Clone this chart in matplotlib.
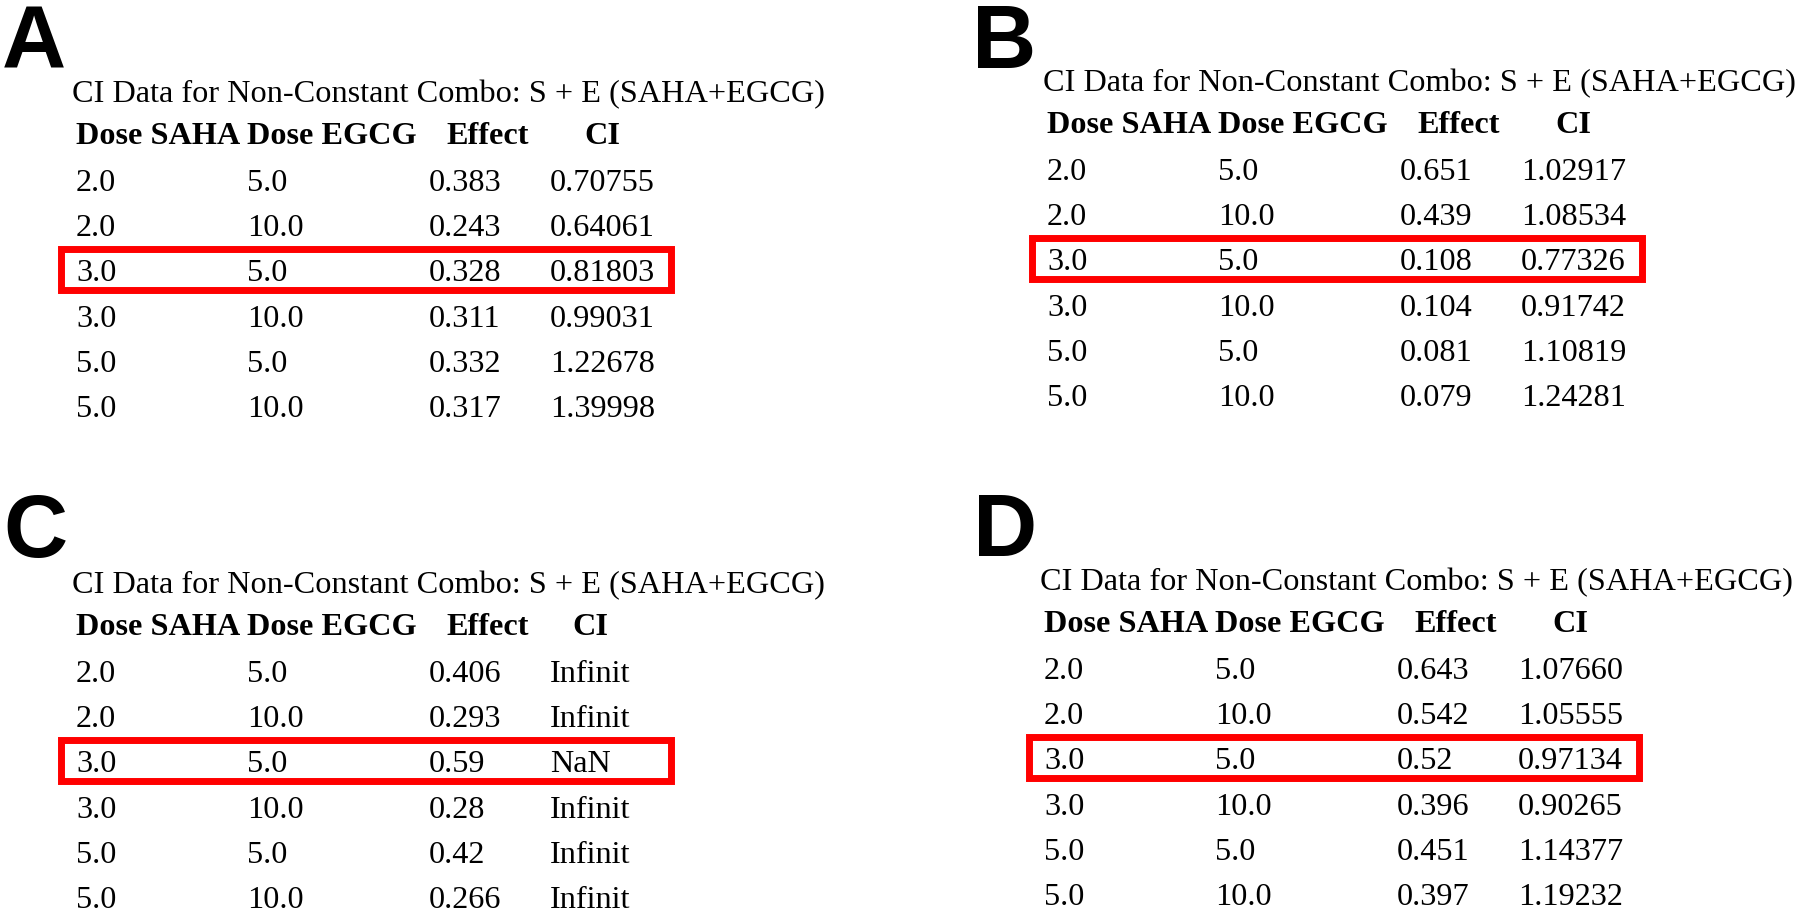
import matplotlib.pyplot as plt
from matplotlib.patches import Rectangle

# table contents (same doses for every panel)
dose_saha = ['2.0', '2.0', '3.0', '3.0', '5.0', '5.0']
dose_egcg = ['5.0', '10.0', '5.0', '10.0', '5.0', '10.0']

effect_A = ['0.383', '0.243', '0.328', '0.311', '0.332', '0.317']
ci_A = ['0.70755', '0.64061', '0.81803', '0.99031', '1.22678', '1.39998']
effect_B = ['0.651', '0.439', '0.108', '0.104', '0.081', '0.079']
ci_B = ['1.02917', '1.08534', '0.77326', '0.91742', '1.10819', '1.24281']
effect_C = ['0.406', '0.293', '0.59', '0.28', '0.42', '0.266']
ci_C = ['Infinit', 'Infinit', 'NaN', 'Infinit', 'Infinit', 'Infinit']
effect_D = ['0.643', '0.542', '0.52', '0.396', '0.451', '0.397']
ci_D = ['1.07660', '1.05555', '0.97134', '0.90265', '1.14377', '1.19232']

panel_labels = ['A', 'B', 'C', 'D']
headers = ['Dose SAHA', 'Dose EGCG', 'Effect', 'CI']
title = 'CI Data for Non-Constant Combo: S + E (SAHA+EGCG)'
highlight_row = 2

# layout in pixels (y downwards), panel A is the base
offsets = [(0, 0), (971, -11), (0, 491), (968, 488)]
letter_pos = [(2, 69), (972, 68), (3, 557), (973, 556)]
col_x = [76, 247, 429, 550]
head_x = [76, 247, 446]
title_y = 102
head_y = 144
row0_y = 191
row_dy = 45.2
box_x0, box_x1 = 61, 670.5

fs = 23.2
serif = 'Liberation Serif'

fig = plt.figure(figsize=(18, 9.17), dpi=100)
ax = fig.add_axes([0, 0, 1, 1])
ax.set_xlim(0, 1800)
ax.set_ylim(917, 0)
ax.axis('off')

fig.canvas.draw()
renderer = fig.canvas.get_renderer()

panels = [(effect_A, ci_A), (effect_B, ci_B), (effect_C, ci_C), (effect_D, ci_D)]
for k, (eff, ci) in enumerate(panels):
    dx, dy = offsets[k]
    lx, ly = letter_pos[k]
    ax.text(lx, ly, panel_labels[k], fontsize=64, fontweight='bold',
            family='Liberation Sans', va='baseline', ha='left')
    ax.text(72 + dx, title_y + dy, title, fontsize=fs, family=serif,
            va='baseline', ha='left')
    for j in range(3):
        ax.text(head_x[j] + dx, head_y + dy, headers[j], fontsize=fs,
                family=serif, fontweight='bold', va='baseline', ha='left')
    cols = [dose_saha, dose_egcg, eff, ci]
    ci_texts = []
    for i in range(len(dose_saha)):
        y = row0_y + i * row_dy + dy
        for j in range(4):
            t = ax.text(col_x[j] + dx, y, cols[j][i], fontsize=fs,
                        family=serif, va='baseline', ha='left')
            if j == 3:
                ci_texts.append(t)
    # CI header centred over the widest CI value
    w = max(t.get_window_extent(renderer).width for t in ci_texts)
    ax.text(col_x[3] + dx + w / 2, head_y + dy, headers[3], fontsize=fs,
            family=serif, fontweight='bold', va='baseline', ha='center')
    yb = row0_y + highlight_row * row_dy + dy
    ax.add_patch(Rectangle((box_x0 + dx, yb - 32), box_x1 - box_x0, 40.5,
                           fill=False, edgecolor='#ff0000', linewidth=5))

fig.savefig('out.png', dpi=100, facecolor='white')
